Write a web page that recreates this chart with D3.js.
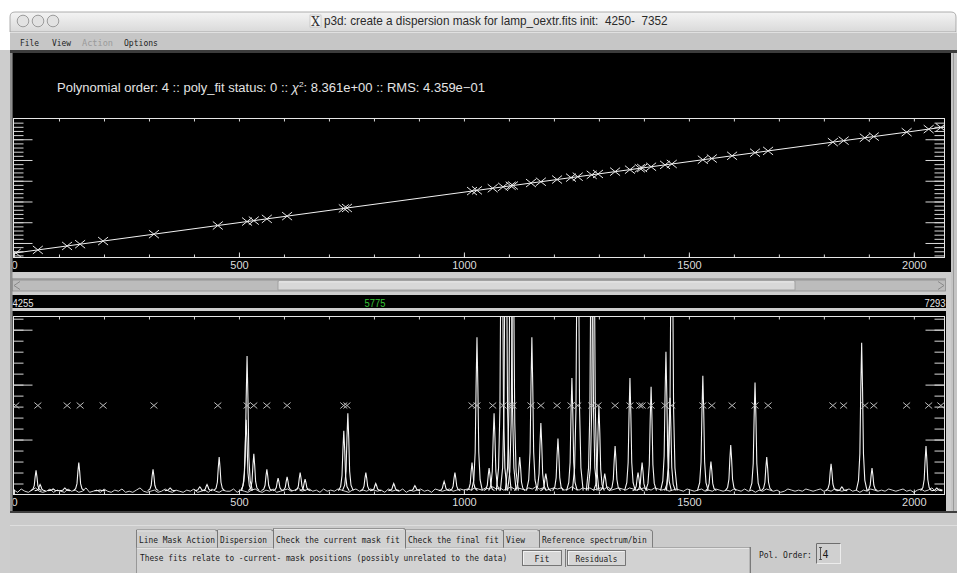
<!DOCTYPE html>
<html>
<head>
<meta charset="utf-8">
<script src="https://cdnjs.cloudflare.com/ajax/libs/d3/7.8.5/d3.min.js"></script>
<style>
  html, body { margin: 0; padding: 0; background: #fff; overflow: hidden; }
  svg { display: block; }
  text { white-space: pre; }
</style>
</head>
<body>
<svg id="app" width="957" height="573"></svg>
<script>
// ---- data ----
const PIX_DOMAIN = [0, 2067];            // detector pixels along x
const WAVE_DOMAIN = [4150, 7500];        // Angstrom, top panel y
const FLUX_DOMAIN = [0, 162];            // counts / 100, bottom panel y
const X_LABELS = [0, 500, 1000, 1500, 2000];
const WAVE_BAR_LABELS = ["4255", "5775", "7293"];

// identified arc lines (mask positions) and their wavelengths
const LINE_PIX = [4, 53, 118, 147, 198, 311, 453, 518, 533, 562, 607, 733, 740, 1018, 1029,
  1064, 1087, 1104, 1109, 1149, 1171, 1207, 1238, 1253, 1284, 1298, 1336, 1369, 1391, 1396,
  1416, 1447, 1462, 1531, 1551, 1596, 1647, 1676, 1820, 1844, 1891, 1911, 1984, 2033, 2060];
const LINE_WAVE = [4261, 4333, 4428, 4471, 4546, 4712, 4921, 5016, 5039, 5081, 5147, 5333, 5343, 5751, 5768,
  5819, 5853, 5878, 5885, 5944, 5976, 6029, 6075, 6097, 6142, 6163, 6219, 6267, 6300, 6307,
  6337, 6382, 6404, 6506, 6535, 6601, 6676, 6719, 6930, 6966, 7035, 7064, 7171, 7244, 7283];
const FIT_END_PIX = [0, 2067];
const FIT_END_WAVE = [4255, 7293];
const MARK_LEVEL = 81;                    // bottom panel row where the mask crosses sit

// lamp spectrum: emission peaks (pixel, counts/100)
const PEAK_PIX = [49, 58, 87, 113, 144, 191, 309, 347, 413, 429, 456, 516, 518, 533, 562, 587, 607, 636, 647, 733,
  742, 782, 804, 844, 891, 956, 980, 1018, 1029, 1056, 1067, 1084, 1093, 1104, 1109, 1124, 1151, 1171, 1182, 1209,
  1240, 1253, 1284, 1288, 1300, 1313, 1336, 1369, 1387, 1396, 1416, 1449, 1458, 1462, 1531, 1549, 1593, 1647, 1673, 1816,
  1840, 1884, 1907, 2027, 2051];
const PEAK_HEIGHT = [22, 9, 5, 6, 29, 4, 23, 6, 7, 9, 34, 68, 126, 37, 23, 15, 16, 20, 14, 58,
  74, 20, 10, 10, 8, 12, 20, 29, 143, 24, 74, 300, 300, 300, 250, 34, 143, 65, 19, 51,
  106, 300, 300, 300, 81, 19, 44, 106, 20, 29, 98, 130, 88, 300, 108, 30, 45, 102, 34, 28,
  7, 138, 24, 44, 6];
// continuum level, one value every BASE_STEP pixels
const BASE_STEP = 8;
const BASE_LEVEL = [
  4,2,5,3,2,4,6,3,2,3,5,2,4,3,2,5,3,4,2,3,6,2,3,4,2,5,
  3,2,4,3,5,2,3,2,4,6,3,2,3,4,2,3,5,3,2,4,3,2,4,3,5,
  2,3,4,2,5,3,2,4,3,3,5,2,4,3,2,4,5,3,2,4,3,5,2,3,4,
  5,3,4,6,3,4,5,3,4,2,5,3,4,3,5,4,3,2,4,5,3,4,3,5,4,
  3,4,2,5,3,4,3,5,2,4,3,4,5,3,4,2,5,4,3,4,5,3,4,5,4,
  5,4,6,5,4,6,5,7,5,6,4,5,7,5,6,5,4,6,5,7,5,6,4,5,6,
  5,6,4,5,7,5,4,6,5,6,4,5,6,5,7,4,5,6,5,4,6,5,4,5,6,
  5,4,6,5,4,5,3,4,5,4,3,5,4,3,4,5,3,4,3,5,4,3,4,3,5,
  4,3,5,3,4,2,4,3,5,4,3,4,2,3,5,4,3,4,3,5,4,3,4,5,3,
  4,3,5,4,3,4,5,3,4,2,4,3,5,4,3,4,3,5,4,3,4,5,3,4,2,4,5,3,4,6,3,5,4];

const MENU_ITEMS = ["File", "View", "Action", "Options"];
const TAB_LABELS = ["Line Mask Action", "Dispersion", "Check the current mask fit",
  "Check the final fit", "View", "Reference spectrum/bin"];

// ---- drawing ----
const MONO = "'DejaVu Sans Mono', 'Liberation Mono', monospace";
const SANS = "'Liberation Sans', Arial, sans-serif";
const W = 957, H = 573;
const svg = d3.select("#app");
const defs = svg.append("defs");

// text squeezed horizontally to the width it has in the screenshot
function fitText(str, x, y, w, o) {
  const t = svg.append("text")
    .attr("font-family", o.family || MONO).attr("font-size", o.size || 9.5)
    .attr("fill", o.fill || "#1a1a1a").text(str);
  const s = w / t.node().getComputedTextLength();
  const x0 = o.anchor === "middle" ? x - w / 2 : x;
  t.attr("transform", `translate(${x0},${y}) scale(${s},1)`);
  return t;
}

svg.append("rect").attr("width", W).attr("height", H).attr("fill", "#ffffff");
svg.append("rect").attr("x", 0).attr("y", 50).attr("width", W).attr("height", H - 50).attr("fill", "#cdcdcd");

// title bar
const tg = defs.append("linearGradient").attr("id", "titleGrad").attr("x1", 0).attr("x2", 0).attr("y1", 0).attr("y2", 1);
tg.append("stop").attr("offset", "0%").attr("stop-color", "#f4f4f4");
tg.append("stop").attr("offset", "100%").attr("stop-color", "#d9d9d9");
svg.append("path")
  .attr("d", "M10,32 V17 Q10,12 15,12 H951 Q956,12 956,17 V32 Z")
  .attr("fill", "url(#titleGrad)").attr("stroke", "#9a9a9a").attr("stroke-width", 0.8);
[23, 38, 53].forEach(cx => {
  svg.append("circle").attr("cx", cx).attr("cy", 21).attr("r", 5.8)
    .attr("fill", "#e2e2e2").attr("stroke", "#9c9c9c").attr("stroke-width", 1);
});
svg.append("rect").attr("x", 310).attr("y", 15).attr("width", 11).attr("height", 12)
  .attr("fill", "#f4f4f4").attr("stroke", "#b5b5b5").attr("stroke-width", 0.6);
svg.append("text").attr("x", 315.5).attr("y", 25.5).attr("text-anchor", "middle")
  .attr("font-family", "'DejaVu Serif', serif").attr("font-size", 12).attr("fill", "#333").text("X");
fitText("p3d: create a dispersion mask for lamp_oextr.fits init:  4250-  7352", 324, 25, 344,
  { family: SANS, size: 12.5, fill: "#2a2a2a" });

// menu bar
svg.append("rect").attr("x", 10).attr("y", 32).attr("width", W - 10).attr("height", 18).attr("fill", "#c6c6c6");
svg.append("line").attr("x1", 10).attr("x2", W).attr("y1", 32.5).attr("y2", 32.5).attr("stroke", "#e0e0e0");
const menuX = [20, 52, 82, 124], menuW = [19, 19, 31, 34];
MENU_ITEMS.forEach((m, i) => {
  fitText(m, menuX[i], 45.5, menuW[i], { fill: m === "Action" ? "#9a9a9a" : "#1e1e1e" });
});
svg.append("rect").attr("x", 10).attr("y", 50).attr("width", W - 10).attr("height", 3).attr("fill", "#3c3c3c");

// side strips
svg.append("rect").attr("x", 10).attr("y", 53).attr("width", 2.5).attr("height", 460).attr("fill", "#8e8e8e");
svg.append("rect").attr("x", 951).attr("y", 53).attr("width", 6).attr("height", 460).attr("fill", "#c4c4c4");
svg.append("line").attr("x1", 953.5).attr("x2", 953.5).attr("y1", 53).attr("y2", 512).attr("stroke", "#9a9a9a");

// ---- top panel: dispersion solution ----
svg.append("rect").attr("x", 12.5).attr("y", 53).attr("width", 938.5).attr("height", 219).attr("fill", "#000");

const x = d3.scaleLinear().domain(PIX_DOMAIN).range([14, 944]);
const yTop = d3.scaleLinear().domain(WAVE_DOMAIN).range([257.5, 118.5]);
const yBot = d3.scaleLinear().domain(FLUX_DOMAIN).range([494.5, 316.5]);

defs.append("clipPath").attr("id", "clipTop").append("rect")
  .attr("x", 13.5).attr("y", 118.5).attr("width", 931).attr("height", 139);
defs.append("clipPath").attr("id", "clipBot").append("rect")
  .attr("x", 13.5).attr("y", 316.5).attr("width", 931).attr("height", 178);
defs.append("clipPath").attr("id", "clipTopPanel").append("rect")
  .attr("x", 12.5).attr("y", 53).attr("width", 938.5).attr("height", 219);
defs.append("clipPath").attr("id", "clipBotPanel").append("rect")
  .attr("x", 12.5).attr("y", 311).attr("width", 933.5).attr("height", 200);

const hdr = svg.append("text").attr("x", 57).attr("y", 92)
  .attr("font-family", SANS).attr("font-size", 12.5).attr("fill", "#e4e4e4");
hdr.append("tspan").text("Polynomial order: 4 :: poly_fit status: 0 :: ");
hdr.append("tspan").attr("font-style", "italic").text("\u03c7");
hdr.append("tspan").attr("font-size", 8).attr("dy", -5).text("2");
hdr.append("tspan").attr("dy", 5).text(": 8.361e+00 :: RMS: 4.359e\u221201");
const hb = hdr.node().getBBox();
hdr.attr("transform", `translate(57,0) scale(${428 / hb.width},1) translate(-57,0)`);

function frameAxes(g, yScale, top, bottom, minorY, majorY, labelClip) {
  const minorX = d3.range(100, 2067, 100);
  const style = s => s.call(a => a.select(".domain").remove())
    .selectAll("line").attr("stroke", "#d8d8d8");
  g.append("g").attr("transform", `translate(0,${bottom})`)
    .call(d3.axisBottom(x).tickValues(minorX).tickSize(-3).tickFormat("")).call(style);
  g.append("g").attr("transform", `translate(0,${top})`)
    .call(d3.axisTop(x).tickValues(minorX).tickSize(-3).tickFormat("")).call(style);
  const lab = g.append("g").attr("clip-path", labelClip)
    .append("g").attr("transform", `translate(0,${bottom})`)
    .call(d3.axisBottom(x).tickValues(X_LABELS).tickSize(-5).tickPadding(4).tickFormat(d3.format("d")));
  lab.call(style);
  lab.selectAll("text").attr("fill", "#dcdcdc").attr("font-family", SANS).attr("font-size", 11);
  [[d3.axisLeft, 13.5], [d3.axisRight, 944.5]].forEach(([ax, px]) => {
    g.append("g").attr("transform", `translate(${px},0)`)
      .call(ax(yScale).tickValues(minorY).tickSize(-10).tickFormat("")).call(style);
    g.append("g").attr("transform", `translate(${px},0)`)
      .call(ax(yScale).tickValues(majorY).tickSize(-19).tickFormat("")).call(style);
  });
  g.append("rect").attr("x", 13.5).attr("y", top).attr("width", 931).attr("height", bottom - top)
    .attr("fill", "none").attr("stroke", "#e6e6e6").attr("stroke-width", 1);
}

const gTop = svg.append("g");
frameAxes(gTop, yTop, 118.5, 257.5, d3.range(4200, 7500, 100), d3.range(4500, 7500, 500), "url(#clipTopPanel)");

const fitPts = FIT_END_PIX.map((p, i) => [p, FIT_END_WAVE[i]])
  .concat(LINE_PIX.map((p, i) => [p, LINE_WAVE[i]]))
  .sort((a, b) => a[0] - b[0]);
gTop.append("path").datum(fitPts).attr("clip-path", "url(#clipTop)")
  .attr("d", d3.line().x(d => x(d[0])).y(d => yTop(d[1])))
  .attr("fill", "none").attr("stroke", "#f2f2f2").attr("stroke-width", 1);

const crossTop = "M-5,-4L5,4M-5,4L5,-4";
gTop.append("g").attr("clip-path", "url(#clipTop)").selectAll("path")
  .data(LINE_PIX.map((p, i) => [p, LINE_WAVE[i]])).join("path")
  .attr("transform", d => `translate(${x(d[0])},${yTop(d[1])})`)
  .attr("d", crossTop).attr("stroke", "#e8e8e8").attr("stroke-width", 1).attr("fill", "none");

// ---- horizontal scrollbar ----
svg.append("rect").attr("x", 12).attr("y", 278.5).attr("width", 934).attr("height", 1).attr("fill", "#7a7a7a");
svg.append("rect").attr("x", 12.5).attr("y", 280).attr("width", 933).attr("height", 11)
  .attr("fill", "#bcbcbc").attr("stroke", "#8a8a8a").attr("stroke-width", 0.8);
svg.append("rect").attr("x", 278).attr("y", 281).attr("width", 517).attr("height", 9)
  .attr("fill", "#d8d8d8").attr("stroke", "#9a9a9a").attr("stroke-width", 0.8);
svg.append("line").attr("x1", 279).attr("x2", 794).attr("y1", 281.8).attr("y2", 281.8).attr("stroke", "#f0f0f0");
svg.append("path").attr("d", "M20,281.5 L14,285.5 L20,289.5").attr("fill", "none").attr("stroke", "#8a8a8a");
svg.append("path").attr("d", "M938,281.5 L944,285.5 L938,289.5").attr("fill", "none").attr("stroke", "#8a8a8a");

// ---- wavelength readout bar ----
svg.append("rect").attr("x", 12.5).attr("y", 295).attr("width", 933.5).attr("height", 13).attr("fill", "#000");
const barX = [12.5, 364.5, 924.5], barFill = ["#e6e6e6", "#35c235", "#e6e6e6"];
WAVE_BAR_LABELS.forEach((t, i) => {
  fitText(t, barX[i], 306.5, 21, { family: SANS, size: 11, fill: barFill[i] });
});

// ---- bottom panel: lamp spectrum with mask ----
svg.append("rect").attr("x", 12.5).attr("y", 311).attr("width", 933.5).attr("height", 200).attr("fill", "#000");
const gBot = svg.append("g");
frameAxes(gBot, yBot, 316.5, 494.5, d3.range(10, 161, 10), [50, 100, 150], "url(#clipBotPanel)");

const spec = gBot.append("g").attr("clip-path", "url(#clipBot)");
const line = d3.line().x(d => x(d[0])).y(d => yBot(d[1]));
spec.append("path").datum(BASE_LEVEL.map((v, i) => [i * BASE_STEP, v]))
  .attr("d", line).attr("fill", "none").attr("stroke", "#eeeeee").attr("stroke-width", 0.9);

// drawn profile of one emission line: [pixel offset, fraction of peak]
const PROFILE = [[-12, 0], [-7, 0.07], [-4, 0.25], [-2, 0.68], [0, 1], [2, 0.68], [4, 0.25], [7, 0.07], [12, 0]];
const FOOT = 3.5;
spec.selectAll(".peak").data(PEAK_PIX.map((p, i) => [p, PEAK_HEIGHT[i]])).join("path")
  .attr("class", "peak")
  .attr("d", d => line(PROFILE.map(([dp, f]) => [d[0] + dp, FOOT + (d[1] - FOOT) * f])))
  .attr("fill", "none").attr("stroke", "#f4f4f4").attr("stroke-width", 1.1);

const crossBot = "M-3.5,-3L3.5,3M-3.5,3L3.5,-3";
spec.append("g").selectAll("path").data(LINE_PIX).join("path")
  .attr("transform", p => `translate(${x(p)},${yBot(MARK_LEVEL)})`)
  .attr("d", crossBot).attr("stroke", "#bdbdbd").attr("stroke-width", 1).attr("fill", "none");

// ---- lower control area ----
svg.append("rect").attr("x", 10).attr("y", 511).attr("width", W - 10).attr("height", 2).attr("fill", "#3e3e3e");
svg.append("rect").attr("x", 10).attr("y", 513).attr("width", W - 10).attr("height", 60).attr("fill", "#cbcbcb");
svg.append("line").attr("x1", 10).attr("x2", W).attr("y1", 525.5).attr("y2", 525.5).attr("stroke", "#dedede");

const tabEdges = [136, 217, 273, 405, 503, 539, 652];
const tabTextW = [76, 47, 124, 91, 19, 105];
const selTab = 2;
// content panel
svg.append("rect").attr("x", 136.5).attr("y", 547.5).attr("width", 613.5).attr("height", 30)
  .attr("fill", "#d2d2d2").attr("stroke", "#8a8a8a").attr("stroke-width", 0.8);
svg.append("line").attr("x1", 137).attr("x2", 749).attr("y1", 548.3).attr("y2", 548.3).attr("stroke", "#ececec");
TAB_LABELS.forEach((t, i) => {
  const x0 = tabEdges[i], x1 = tabEdges[i + 1];
  const sel = i === selTab;
  const topY = sel ? 528.5 : 530;
  svg.append("path")
    .attr("d", `M${x0 + 0.5},${sel ? 548.5 : 547.5} V${topY} H${x1 - 1.5} Q${x1 + 0.5},${topY} ${x1 + 0.5},${topY + 2} V${sel ? 548.5 : 547.5}`)
    .attr("fill", sel ? "#d2d2d2" : "#cfcfcf").attr("stroke", "#6a6a6a").attr("stroke-width", 0.8);
  svg.append("line").attr("x1", x0 + 1).attr("x2", x1 - 2).attr("y1", topY + 0.8).attr("y2", topY + 0.8)
    .attr("stroke", "#ededed");
  fitText(t, x0 + 3, 542.5, tabTextW[i], {});
});

fitText("These fits relate to -current- mask positions (possibly unrelated to the data)", 140, 561, 368, {});

function button(x0, x1, label, tw) {
  svg.append("rect").attr("x", x0 + 0.5).attr("y", 550.5).attr("width", x1 - x0).attr("height", 15)
    .attr("fill", "#d6d6d6").attr("stroke", "#5e5e5e").attr("stroke-width", 0.8);
  svg.append("path").attr("d", `M${x0 + 1.5},564.5 V551.5 H${x1 - 0.5}`)
    .attr("fill", "none").attr("stroke", "#f2f2f2");
  fitText(label, (x0 + x1) / 2 + 0.5, 561.5, tw, { anchor: "middle" });
}
button(522, 561, "Fit", 15);
button(567, 625, "Residuals", 42);
svg.append("line").attr("x1", 565.5).attr("x2", 565.5).attr("y1", 549).attr("y2", 567).attr("stroke", "#7a7a7a");

svg.append("line").attr("x1", 750.5).attr("x2", 750.5).attr("y1", 547).attr("y2", 573).attr("stroke", "#7a7a7a");
fitText("Pol. Order:", 759, 557.5, 53, {});
svg.append("rect").attr("x", 816.5).attr("y", 543.5).attr("width", 24).attr("height", 20)
  .attr("fill", "#d0d0d0").attr("stroke", "#ececec").attr("stroke-width", 1);
svg.append("path").attr("d", "M816.5,563.5 V543.5 H840.5").attr("fill", "none").attr("stroke", "#6e6e6e");
svg.append("text").attr("x", 822.5).attr("y", 558)
  .attr("font-family", MONO).attr("font-size", 10).attr("fill", "#1a1a1a").text("4");
svg.append("path").attr("d", "M819,547.5 h3 M820.5,547.5 V559.5 M819,559.5 h3")
  .attr("fill", "none").attr("stroke", "#333").attr("stroke-width", 0.8);
</script>
</body>
</html>
